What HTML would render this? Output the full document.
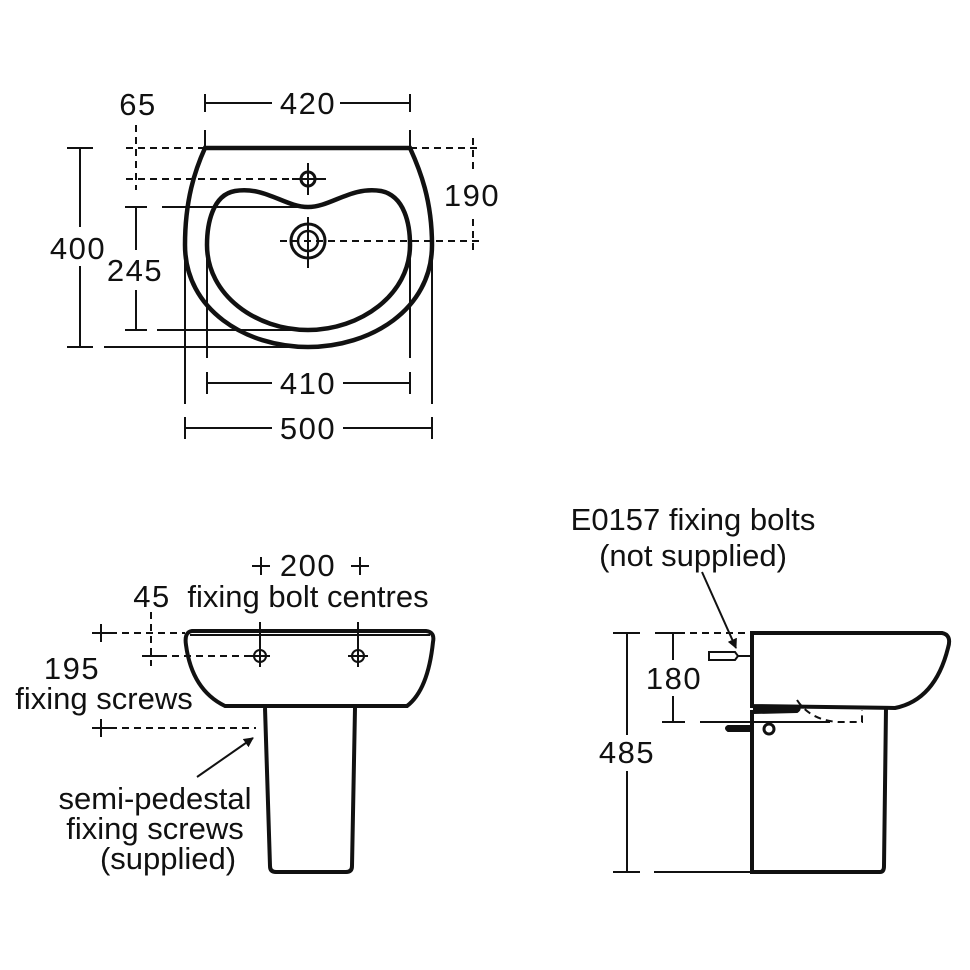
<!DOCTYPE html>
<html><head><meta charset="utf-8"><style>
html,body{margin:0;padding:0;background:#fff;}
svg{display:block;}
text{font-family:"Liberation Sans",sans-serif;fill:#111;}
.n{letter-spacing:1.5px;}
</style></head><body>
<svg width="970" height="970" viewBox="0 0 970 970" xmlns="http://www.w3.org/2000/svg">
<defs><marker id="ah" viewBox="0 0 10 10" refX="9" refY="5" markerWidth="5" markerHeight="5" orient="auto"><path d="M0,0 L10,5 L0,10 z" fill="#111"/></marker></defs>
<g fill="none" stroke="#111">
<!-- TOP VIEW -->
<path d="M205,148 L410,148 C420,170 432,200 432,245 C432,310 370,347 308,347 C246,347 185,310 185,245 C185,200 195,170 205,148 Z" stroke-width="4.5"/>
<path d="M235,191 C265,186 285,207 308,207 C331,207 351,186 381,191 C405,196 410,225 410,245 C410,295 360,330 308,330 C256,330 207,295 207,245 C207,225 212,195 235,191 Z" stroke-width="4.5"/>
<circle cx="308" cy="179" r="7" stroke-width="3"/>
<circle cx="308" cy="241" r="17" stroke-width="3"/>
<circle cx="308" cy="241" r="10" stroke-width="2.5"/>
<g stroke-width="2">
<line x1="308" y1="163" x2="308" y2="195"/><line x1="292" y1="179" x2="326" y2="179"/>
<line x1="308" y1="217" x2="308" y2="268"/>
<line x1="205" y1="94" x2="205" y2="112"/><line x1="410" y1="94" x2="410" y2="112"/>
<line x1="205" y1="103" x2="272" y2="103"/><line x1="340" y1="103" x2="410" y2="103"/>
<line x1="205" y1="130" x2="205" y2="148"/><line x1="410" y1="130" x2="410" y2="148"/>
<line x1="80" y1="148" x2="80" y2="227"/><line x1="80" y1="266" x2="80" y2="347"/>
<line x1="67" y1="148" x2="93" y2="148"/><line x1="67" y1="347" x2="93" y2="347"/>
<line x1="104" y1="347" x2="308" y2="347"/>
<line x1="136" y1="207" x2="136" y2="250"/><line x1="136" y1="290" x2="136" y2="330"/>
<line x1="125" y1="207" x2="147" y2="207"/><line x1="125" y1="330" x2="147" y2="330"/>
<line x1="162" y1="207" x2="300" y2="207"/><line x1="157" y1="330" x2="300" y2="330"/>
<line x1="207" y1="245" x2="207" y2="358"/><line x1="410" y1="245" x2="410" y2="358"/>
<line x1="185" y1="245" x2="185" y2="404"/><line x1="432" y1="245" x2="432" y2="404"/>
<line x1="207" y1="372" x2="207" y2="394"/><line x1="410" y1="372" x2="410" y2="394"/>
<line x1="207" y1="383" x2="272" y2="383"/><line x1="343" y1="383" x2="410" y2="383"/>
<line x1="185" y1="417" x2="185" y2="439"/><line x1="432" y1="417" x2="432" y2="439"/>
<line x1="185" y1="428" x2="272" y2="428"/><line x1="343" y1="428" x2="432" y2="428"/>
</g>
<g stroke-width="2" stroke-dasharray="7,5">
<line x1="136" y1="125" x2="136" y2="190"/>
<line x1="126" y1="148" x2="205" y2="148"/>
<line x1="126" y1="179" x2="290" y2="179"/>
<line x1="410" y1="148" x2="482" y2="148"/>
<line x1="280" y1="241" x2="482" y2="241"/>
<line x1="473" y1="138" x2="473" y2="170"/>
<line x1="473" y1="219" x2="473" y2="250"/>
</g>

<!-- FRONT VIEW -->
<path d="M192,631 L426,631 Q435,632 433,642 Q428,690 407,706 L225,706 Q192,690 186,645 Q184,632 192,631 Z" stroke-width="4"/>
<line x1="190" y1="635" x2="430" y2="635" stroke-width="2"/>
<path d="M265,708 L270,866 Q270,872 276,872 L346,872 Q352,872 352,866 L355,708" stroke-width="4"/>
<g stroke-width="2">
<circle cx="260" cy="656" r="6"/><circle cx="358" cy="656" r="6"/>
<line x1="260" y1="622" x2="260" y2="667"/><line x1="250" y1="656" x2="270" y2="656"/>
<line x1="358" y1="622" x2="358" y2="667"/><line x1="348" y1="656" x2="368" y2="656"/>
<line x1="252" y1="566" x2="270" y2="566"/><line x1="261" y1="557" x2="261" y2="575"/>
<line x1="351" y1="566" x2="369" y2="566"/><line x1="360" y1="557" x2="360" y2="575"/>
<line x1="92" y1="633" x2="110" y2="633"/><line x1="101" y1="624" x2="101" y2="642"/>
<line x1="92" y1="728" x2="110" y2="728"/><line x1="101" y1="719" x2="101" y2="737"/>
<line x1="142" y1="656" x2="160" y2="656"/>
<line x1="197" y1="777" x2="253" y2="738" marker-end="url(#ah)"/>
</g>
<g stroke-width="2" stroke-dasharray="7,5">
<line x1="110" y1="633" x2="185" y2="633"/>
<line x1="160" y1="656" x2="252" y2="656"/>
<line x1="110" y1="728" x2="256" y2="728"/>
<line x1="151" y1="612" x2="151" y2="666"/>
</g>

<!-- SIDE VIEW -->
<path d="M752,706 L752,633 L942,633 Q952,635 948,648 Q935,700 895,708 Z" stroke-width="4"/>
<path d="M752,710 L752,872 L880,872 Q884,872 884,866 L886,708" stroke-width="4"/>
<path d="M754,706 L795,706 Q803,708 797,712 L754,713 Z" fill="#111" stroke-width="2"/>
<circle cx="769" cy="729" r="5" stroke-width="3"/>
<g stroke-width="2">
<line x1="627" y1="633" x2="627" y2="735"/><line x1="627" y1="771" x2="627" y2="872"/>
<line x1="613" y1="633" x2="640" y2="633"/><line x1="613" y1="872" x2="640" y2="872"/>
<line x1="654" y1="872" x2="752" y2="872"/>
<line x1="673" y1="633" x2="673" y2="660"/><line x1="673" y1="696" x2="673" y2="722"/>
<line x1="662" y1="633" x2="685" y2="633"/><line x1="662" y1="722" x2="685" y2="722"/>
<line x1="700" y1="722" x2="830" y2="722"/>
<line x1="702" y1="572" x2="736" y2="648" marker-end="url(#ah)"/>
<path d="M709,652 L735,652 L738,656 L735,660 L709,660 Z"/>
<line x1="738" y1="656" x2="752" y2="656"/>
<path d="M728,726 L752,726 L752,731 L728,731 Q724,728 728,726 Z" fill="#111"/>
</g>
<g stroke-width="2" stroke-dasharray="7,5">
<line x1="655" y1="633" x2="662" y2="633"/><line x1="690" y1="633" x2="752" y2="633"/>
<path d="M797,700 Q810,720 838,722 L862,722 L862,710"/>
</g>
</g>

<g font-size="31" text-anchor="middle">
<text class="n" x="308" y="114">420</text>
<text class="n" x="138" y="115">65</text>
<text class="n" x="472" y="206">190</text>
<text class="n" x="78" y="259">400</text>
<text class="n" x="135" y="281">245</text>
<text class="n" x="308" y="394">410</text>
<text class="n" x="308" y="439">500</text>
<text class="n" x="308" y="576">200</text>
<text x="308" y="607">fixing bolt centres</text>
<text class="n" x="152" y="607">45</text>
<text class="n" x="72" y="679">195</text>
<text x="104" y="709">fixing screws</text>
<text x="155" y="809">semi-pedestal</text>
<text x="155" y="839">fixing screws</text>
<text x="168" y="869">(supplied)</text>
<text x="693" y="530">E0157 fixing bolts</text>
<text x="693" y="566">(not supplied)</text>
<text class="n" x="674" y="689">180</text>
<text class="n" x="627" y="763">485</text>
</g>
</svg>
</body></html>
